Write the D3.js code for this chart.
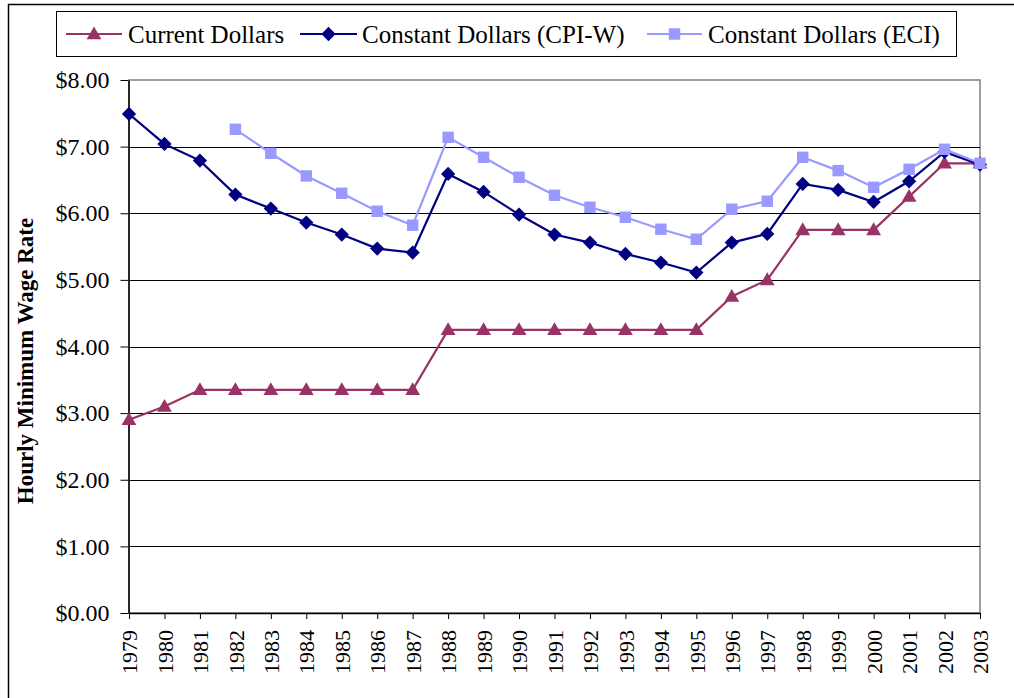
<!DOCTYPE html>
<html>
<head>
<meta charset="utf-8">
<script src="https://cdn.jsdelivr.net/npm/d3@7"></script>
<style>
  html, body { margin: 0; padding: 0; background: #fff; }
  svg { display: block; }
  text { font-family: "Liberation Serif", "Times New Roman", serif; fill: #000; }
</style>
</head>
<body>
<svg id="chart" width="1014" height="698"></svg>
<script>
const years = ["1979","1980","1981","1982","1983","1984","1985","1986","1987","1988","1989","1990","1991","1992","1993","1994","1995","1996","1997","1998","1999","2000","2001","2002","2003"];
const currentDollars = [2.90,3.10,3.35,3.35,3.35,3.35,3.35,3.35,3.35,4.25,4.25,4.25,4.25,4.25,4.25,4.25,4.25,4.75,5.00,5.75,5.75,5.75,6.25,6.75,6.75];
const constantCPIW = [7.49,7.04,6.79,6.28,6.07,5.86,5.68,5.47,5.41,6.59,6.32,5.98,5.68,5.56,5.39,5.26,5.11,5.56,5.69,6.44,6.35,6.17,6.48,6.92,6.73];
const constantECI = [null,null,null,7.26,6.90,6.56,6.30,6.03,5.82,7.14,6.84,6.54,6.27,6.09,5.94,5.76,5.61,6.06,6.18,6.84,6.64,6.39,6.66,6.96,6.75];
const yTicks = [0,1,2,3,4,5,6,7,8];
const seriesNames = ["Current Dollars","Constant Dollars (CPI-W)","Constant Dollars (ECI)"];
const seriesColors = ["#993366","#000080","#9999FF"];
const yTitle = "Hourly Minimum Wage Rate";

const svg = d3.select("#chart");

// outer chart border
svg.append("rect").attr("x",8.5).attr("y",4.5).attr("width",1020).attr("height",720)
  .attr("fill","none").attr("stroke","#000").attr("stroke-width",1.5);

const x = d3.scalePoint().domain(years).range([129, 980]);
const y = d3.scaleLinear().domain([0, 8]).range([613, 80]);

// plot area border (grey)
svg.append("rect").attr("x",129).attr("y",80).attr("width",851).attr("height",533)
  .attr("fill","none").attr("stroke","#808080").attr("stroke-width",1.5);

// gridlines
svg.append("g").selectAll("line").data(yTicks.filter(d => d > 0 && d < 8)).join("line")
  .attr("x1",129).attr("x2",980).attr("y1",d => Math.round(y(d))+0.5).attr("y2",d => Math.round(y(d))+0.5)
  .attr("stroke","#000").attr("stroke-width",1);

// y axis
const yAxis = svg.append("g").attr("transform","translate(128.5,0)")
  .call(d3.axisLeft(y).tickValues(yTicks).tickFormat(d3.format("$.2f")).tickSize(8).tickSizeOuter(0).tickPadding(11));
yAxis.select(".domain").attr("stroke","#000").attr("stroke-width",1.5);
yAxis.selectAll(".tick line").attr("stroke","#000");
yAxis.selectAll("text").style("font-size","24px").style("font-family","Liberation Serif").attr("fill","#000");

// x axis
const xAxis = svg.append("g").attr("transform","translate(0,613)")
  .call(d3.axisBottom(x).tickSize(6).tickSizeOuter(0));
xAxis.select(".domain").attr("stroke","#000").attr("stroke-width",1.5);
xAxis.selectAll(".tick line").attr("stroke","#000");
xAxis.selectAll("text")
  .style("font-size","22px").style("font-family","Liberation Serif").attr("fill","#000")
  .attr("text-anchor","end")
  .attr("transform","rotate(-90)")
  .attr("x",-17).attr("y",0).attr("dy","0.35em");

// y title
svg.append("text")
  .attr("transform","translate(33,361) rotate(-90)")
  .attr("text-anchor","middle")
  .style("font-size","23px").style("font-weight","bold")
  .text(yTitle);

// symbols
const triangle = d3.symbol().type(d3.symbolTriangle).size(95);
const diamond = d3.symbol().type(d3.symbolDiamond2).size(130);
const square = d3.symbol().type(d3.symbolSquare).size(130);
const shapes = [triangle, diamond, square];

const allSeries = [currentDollars, constantCPIW, constantECI];
const line = d3.line().defined(d => d.v != null).x(d => x(d.year)).y(d => y(d.v));

allSeries.forEach((vals, i) => {
  const data = years.map((yr, j) => ({year: yr, v: vals[j]}));
  const g = svg.append("g");
  g.append("path").datum(data).attr("d", line).attr("fill","none")
    .attr("stroke", seriesColors[i]).attr("stroke-width", 2.2);
  g.selectAll("path.m").data(data.filter(d => d.v != null)).join("path").attr("class","m")
    .attr("d", shapes[i])
    .attr("transform", d => `translate(${x(d.year)},${y(d.v) + (i===0 ? 1 : 0)})`)
    .attr("fill", seriesColors[i]);
});

// legend
const lg = svg.append("g");
lg.append("rect").attr("x",56.5).attr("y",11.5).attr("width",900).attr("height",45)
  .attr("fill","#fff").attr("stroke","#000").attr("stroke-width",1);
const legendItems = [
  {lx1:66, lx2:122, tx:128},
  {lx1:300, lx2:357, tx:362},
  {lx1:647, lx2:702, tx:708}
];
legendItems.forEach((it, i) => {
  const cy = 34;
  lg.append("line").attr("x1",it.lx1).attr("x2",it.lx2).attr("y1",cy).attr("y2",cy)
    .attr("stroke",seriesColors[i]).attr("stroke-width",2.2);
  lg.append("path").attr("d", shapes[i])
    .attr("transform",`translate(${(it.lx1+it.lx2)/2},${cy + (i===0?1:0)})`)
    .attr("fill",seriesColors[i]);
  lg.append("text").attr("x",it.tx).attr("y",cy).attr("dy","0.35em")
    .style("font-size","25px").text(seriesNames[i]);
});
</script>
</body>
</html>
